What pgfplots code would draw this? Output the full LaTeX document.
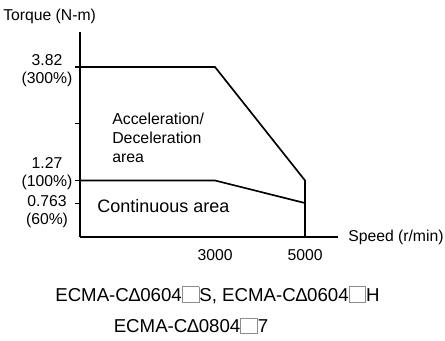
\documentclass[border=0pt]{standalone}
\usepackage{pgfplots}
\pgfplotsset{compat=1.18}
\usepackage{fontspec}
\setmainfont{Liberation Sans}

% small empty box used in the model names
\newcommand\bx{{\color{black!45}\setlength{\fboxsep}{0pt}\setlength{\fboxrule}{0.6pt}\fbox{\rule[-0.05em]{0pt}{0.8em}\hspace{0.85em}}}}
\newcommand\lab{\fontsize{11.8}{13.5}\selectfont}
\newcommand\bigf{\fontsize{13.5}{16}\selectfont}

\begin{document}
\begin{tikzpicture}[x=0.75pt,y=-0.75pt]
\path[use as bounding box] (0,0) rectangle (445,341);
\begin{axis}[
  at={(60pt,-177.75pt)}, anchor=south west,
  scale only axis, width=193.5pt, height=153.75pt,
  xmin=0, xmax=5733, ymin=0, ymax=4.607,
  axis x line=bottom, axis y line=left,
  x axis line style={-}, y axis line style={-},
  axis line style={line width=1.25pt},
  clip=false,
  ytick={0.763,1.27,2.545,3.82}, yticklabels={},
  xtick=\empty,
  tick align=outside, major tick length=3.75pt,
  tick style={black, line width=0.8pt},
]
\addplot[black, line width=1.25pt] coordinates {(0,3.82) (3000,3.82) (5000,1.27) (5000,0)};
\addplot[black, line width=1.25pt] coordinates {(0,1.27) (3000,1.27) (5000,0.763)};
\node[font=\lab, inner sep=0, yshift=-13.5pt] at (axis cs:3000,0) {3000};
\node[font=\lab, inner sep=0, yshift=-13.5pt] at (axis cs:5000,0) {5000};
\end{axis}

\node[anchor=west, inner sep=0, font=\lab] at (3,16) {Torque (N-m)};
\node[align=center, inner sep=0, font=\lab] at (47,71) {3.82\\(300\%)};
\node[align=center, inner sep=0, font=\lab] at (47,173.5) {1.27\\(100\%)};
\node[align=center, inner sep=0, font=\lab] at (47,212) {0.763\\(60\%)};
\node[anchor=west, inner sep=0, font=\lab] at (348,237) {Speed (r/min)};

\node[anchor=north west, align=left, inner sep=0, font=\fontsize{11.9}{14.25}\selectfont] at (112,113) {Acceleration/\\Deceleration\\area};
\node[anchor=west, inner sep=0, font=\bigf] at (97,206) {Continuous area};

\node[inner sep=0, font=\fontsize{14}{16}\selectfont] at (217.5,295) {ECMA-C∆0604\bx S, ECMA-C∆0604\bx H};
\node[inner sep=0, font=\fontsize{14}{16}\selectfont] at (191,326) {ECMA-C∆0804\bx 7};
\end{tikzpicture}
\end{document}
